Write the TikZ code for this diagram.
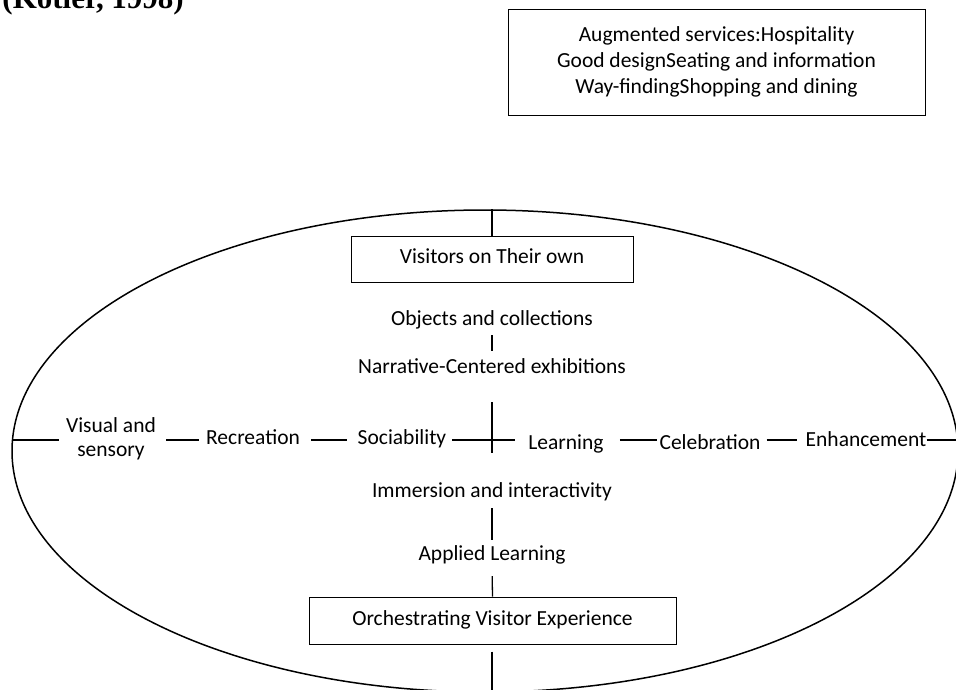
\documentclass[tikz,border=0pt]{standalone}
\usepackage{fontspec}
\setmainfont{Carlito}
\newfontfamily\titlefont{Liberation Serif}
\usetikzlibrary{calc}
\begin{document}
\begin{tikzpicture}[x=1pt,y=-1pt,
  lbl/.style={inner sep=0pt, text height=14pt, text depth=5pt,
              font=\fontsize{21.5}{25}\selectfont},
  boxed/.style={lbl, draw, line width=1pt},
  multi/.style={inner sep=0pt, align=center},
  conn/.style={line width=1.3pt},
  rim/.style={line width=1.5pt}]
\useasboundingbox (0,0) rectangle (956,689);
\clip (0,0) rectangle (956,689);

% heading (only its lower part lies inside the frame)
\node[anchor=base east, inner sep=0pt,
      font=\titlefont\bfseries\fontsize{31}{31}\selectfont] (title) at (184,8) {(Kotler, 1998)};

% augmented services box
\node[draw, line width=1pt, multi, minimum width=417pt, minimum height=106pt,
      font=\fontsize{21.5}{26}\selectfont] (aug) at (716.5,62)
  {Augmented services:Hospitality\\Good designSeating and information\\Way-findingShopping and dining};

% outer ring
\draw[rim] (485,451) ellipse [x radius=473, y radius=241];
\coordinate (eT) at (492,209);
\coordinate (eB) at (492,692);
\coordinate (eL) at (12,440);
\coordinate (eR) at (958,440);

% central column
\node[boxed, minimum width=282pt, minimum height=46pt] (visitors) at (492,259) {Visitors on Their own};
\node[lbl] (objects) at (492,320.5) {Objects and collections};
\node[lbl] (narr) at (492,368.5) {Narrative-Centered exhibitions};
\node[lbl] (immersion) at (492,492.5) {Immersion and interactivity};
\node[lbl] (applied) at (492,555.5) {Applied Learning};
\node[boxed, minimum width=367pt, minimum height=47pt] (orch) at (492.5,620.5) {Orchestrating Visitor Experience};

% horizontal row
\node[multi, font=\fontsize{21.5}{24}\selectfont] (visual) at (111,439) {Visual and\\sensory};
\node[lbl] (recreation) at (253,439.5) {Recreation};
\node[lbl] (sociability) at (402,439.5) {Sociability};
\node[lbl] (learning) at (566,444.5) {Learning};
\node[lbl] (celebration) at (710,444.5) {Celebration};
\node[lbl] (enhancement) at (866,441.5) {Enhancement};

% vertical connectors
\draw[conn] (eT) -- (visitors.north);
\draw[conn, shorten <=5pt, shorten >=8pt] (objects.south) -- (narr.north);
\draw[conn, shorten <=24pt, shorten >=30pt] (narr.south) -- (immersion.north);
\draw[conn, shorten <=6pt, shorten >=6pt] (immersion.south) -- (applied.north);
\draw[conn, shorten <=11pt] (applied.south) -- (orch.north);
\draw[conn, shorten <=7pt] (orch.south -| eB) -- (eB);

% horizontal connectors
\draw[conn, shorten >=7pt] (eL) -- (visual.west |- eL);
\draw[conn, shorten <=10pt, shorten >=7pt] (visual.east |- eL) -- (recreation.west |- eL);
\draw[conn, shorten <=11pt, shorten >=11pt] (recreation.east |- eL) -- (sociability.west |- eL);
\draw[conn, shorten <=6pt, shorten >=13pt] (sociability.east |- eL) -- (learning.west |- eL);
\draw[conn, shorten <=16pt, shorten >=2pt] (learning.east |- eL) -- (celebration.west |- eL);
\draw[conn, shorten <=6pt, shorten >=8pt] (celebration.east |- eL) -- (enhancement.west |- eL);
\draw[conn] (enhancement.east |- eR) -- (eR);
\end{tikzpicture}
\end{document}
